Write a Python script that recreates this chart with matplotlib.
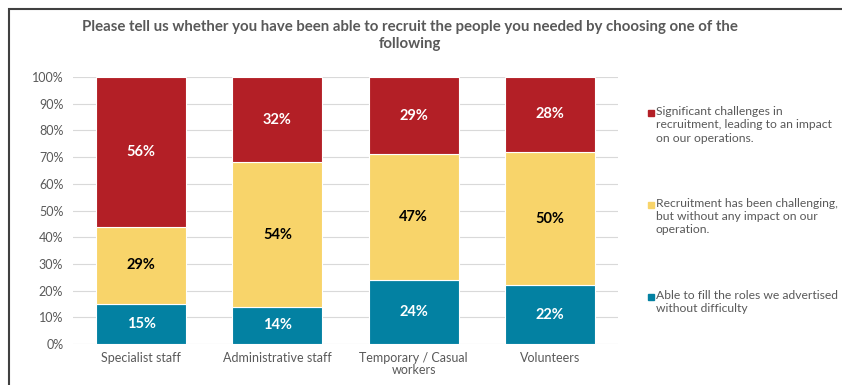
import matplotlib
matplotlib.use('Agg')
import matplotlib.pyplot as plt
from matplotlib.patches import Rectangle
import numpy as np

plt.rcParams['font.family'] = ['Lato', 'DejaVu Sans']

categories = ['Specialist staff', 'Administrative staff', 'Temporary / Casual\nworkers', 'Volunteers']
able = [15, 14, 24, 22]
challenging = [29, 54, 47, 50]
significant = [56, 32, 29, 28]

series_labels = [
    'Significant challenges in\nrecruitment, leading to an impact\non our operations.',
    'Recruitment has been challenging,\nbut without any impact on our\noperation.',
    'Able to fill the roles we advertised\nwithout difficulty',
]
colors = {'able': '#0381A2', 'challenging': '#F8D46A', 'significant': '#B31F26'}
grey = '#595959'

fig = plt.figure(figsize=(8.42, 3.85), dpi=100)
ax = fig.add_axes([73 / 842, 1 - 344 / 385, 545 / 842, 267 / 385])

x = np.arange(len(categories))
w = 0.66
bottom = np.zeros(len(categories))
stack = [(able, colors['able'], 'white'),
         (challenging, colors['challenging'], 'black'),
         (significant, colors['significant'], 'white')]
for vals, col, tcol in stack:
    vals = np.array(vals, dtype=float)
    bars = ax.bar(x, vals, w, bottom=bottom, color=col, edgecolor='white', linewidth=0.8, zorder=3)
    for b, v, b0 in zip(bars, vals, bottom):
        ax.text(b.get_x() + b.get_width() / 2, b0 + v / 2, f'{int(v)}%', ha='center', va='center',
                color=tcol, fontsize=10.5, fontweight='bold', zorder=4)
    bottom += vals

ax.set_xlim(-0.5, len(categories) - 0.5)
ax.set_ylim(0, 100)
ax.set_yticks(np.arange(0, 101, 10))
ax.set_yticklabels([f'{t}%' for t in range(0, 101, 10)])
ax.set_xticks(x)
ax.set_xticklabels(categories, linespacing=1.0)
ax.yaxis.grid(True, color='#D9D9D9', linewidth=0.8, zorder=0)
for s in ax.spines.values():
    s.set_visible(False)
ax.tick_params(axis='both', length=0, colors=grey, labelsize=9)
ax.tick_params(axis='y', pad=7)
ax.tick_params(axis='x', pad=6)

# title
fig.text(0.487, 1 - 27 / 385, 'Please tell us whether you have been able to recruit the people you needed by choosing one of the',
         ha='center', va='center', fontsize=10.8, fontweight='bold', color=grey)
fig.text(0.487, 1 - 44 / 385, 'following', ha='center', va='center', fontsize=10.8, fontweight='bold', color=grey)

# legend, drawn by hand so the swatch sits next to the first line
leg_cols = [colors['significant'], colors['challenging'], colors['able']]
leg_y = [113, 205, 297]
for lab, col, yy in zip(series_labels, leg_cols, leg_y):
    fig.patches.append(Rectangle((648 / 842, 1 - (yy + 3) / 385), 6 / 842, 6 / 385,
                                 transform=fig.transFigure, color=col))
    fig.text(656 / 842, 1 - (yy - 7) / 385, lab, ha='left', va='top', fontsize=8.7, color=grey,
             linespacing=1.25)

# outer frame
fig.patches.append(Rectangle((9 / 842, -0.1), 1.1, 1 - 9 / 385 + 0.1, transform=fig.transFigure,
                             fill=False, edgecolor='#404040', linewidth=1.5))

fig.savefig('out.png', dpi=100)
